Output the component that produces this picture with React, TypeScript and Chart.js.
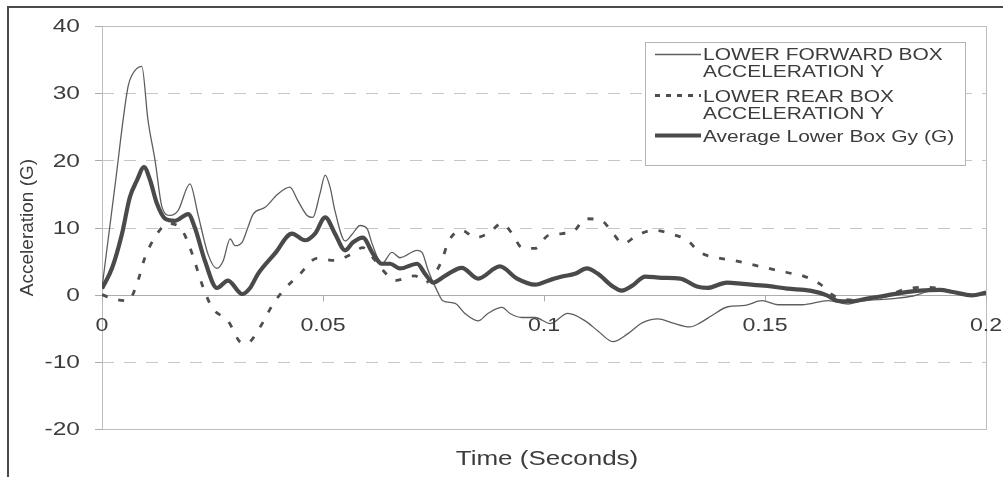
import { useEffect, useRef } from 'react';
import { Chart, registerables } from 'chart.js';

Chart.register(...registerables);

const FONT = '"Liberation Sans", Arial, sans-serif';
const INK = '#3c3c3c';

// Axis ticks and titles
const xTickValues = [0, 0.05, 0.1, 0.15, 0.2];
const xTickLabels = ['0', '0.05', '0.1', '0.15', '0.2'];
const yTickValues = [40, 30, 20, 10, 0, -10, -20];
const xTitle = 'Time (Seconds)';
const yTitle = 'Acceleration (G)';

// Legend entries (wrapped as shown in the legend box)
const forwardLegend = ['LOWER FORWARD BOX', 'ACCELERATION Y'];
const rearLegend = ['LOWER REAR BOX', 'ACCELERATION Y'];
const averageLegend = ['Average Lower Box Gy (G)'];

// Lower forward box acceleration Y (time in s, acceleration in G)
const forwardTime = [
  0.0, 0.0029, 0.0059, 0.0068, 0.009, 0.0104, 0.012, 0.0136, 0.0154, 0.0172,
  0.0199, 0.0217, 0.024, 0.026, 0.0274, 0.029, 0.0301, 0.0317, 0.033, 0.0342,
  0.0369, 0.0398, 0.0425, 0.0443, 0.0464, 0.0477, 0.0493, 0.0505, 0.0516, 0.0527,
  0.055, 0.0566, 0.0584, 0.06, 0.0611, 0.0633, 0.0656, 0.0674, 0.0713, 0.0724,
  0.0738, 0.0758, 0.0771, 0.0799, 0.0821, 0.0851, 0.0873, 0.0905, 0.0923, 0.095,
  0.098, 0.1014, 0.1054, 0.1093, 0.1122, 0.1156, 0.119, 0.1222, 0.1258, 0.129,
  0.133, 0.1353, 0.138, 0.1416, 0.1455, 0.1493, 0.1529, 0.1584, 0.1643, 0.1688,
  0.1715, 0.179, 0.1835, 0.188, 0.1912, 0.1964, 0.2,
];
const forwardAccel = [
  1, 16, 31, 32.7, 34, 26, 20, 13, 11.8, 12.5,
  16.5, 12, 6, 3.9, 5, 8.3, 7.3, 7.8, 10, 12,
  13, 15, 16, 14, 11.8, 11.5, 15, 17.8, 16, 12.5,
  8, 9, 10.3, 9.8, 7.6, 4.6, 6.3, 5.5, 6.6, 6.3,
  3.6, 0.6, -0.9, -1.3, -2.8, -3.9, -2.8, -1.9, -2.8, -3.4,
  -3.4, -4.3, -2.8, -3.9, -5.4, -7, -5.8, -4.2, -3.6, -4.2,
  -4.8, -4.2, -3.1, -1.8, -1.6, -0.9, -1.5, -1.5, -0.9, -1.4,
  -1.0, -0.6, -0.2, 0.6, 0.5, 0.0, 0.3,
];

// Lower rear box acceleration Y
const rearTime = [
  0.0, 0.0025, 0.0059, 0.0079, 0.0097, 0.0124, 0.0149, 0.0181, 0.0204, 0.0226,
  0.0249, 0.0285, 0.0317, 0.0328, 0.0357, 0.0387, 0.041, 0.0448, 0.0486, 0.0527,
  0.0566, 0.059, 0.0613, 0.0636, 0.0663, 0.0708, 0.0731, 0.076, 0.0771, 0.0783,
  0.0814, 0.0844, 0.0873, 0.0905, 0.0928, 0.095, 0.098, 0.1009, 0.1041, 0.107,
  0.1093, 0.1131, 0.1154, 0.1179, 0.121, 0.1247, 0.129, 0.1324, 0.1353, 0.1391,
  0.1428, 0.1489, 0.155, 0.1586, 0.1624, 0.1654, 0.1697, 0.1731, 0.1776, 0.1812,
  0.1857, 0.1896, 0.1925, 0.1968, 0.2,
];
const rearAccel = [
  0, -0.6, -0.9, 1.6, 5.5, 9, 10.6, 9.6, 6.1, 1.6,
  -1.9, -3.9, -7.2, -7.2, -4.9, -1.4, 0.6, 3.1, 5.4, 5.1,
  6.1, 7, 5.5, 3.6, 2.1, 2.8, 1.8, 3.9, 5.5, 7.8,
  9.6, 8.5, 9.1, 10.6, 9.1, 7, 6.9, 8.8, 9.1, 9.6,
  11.3, 11, 9.3, 7.6, 8.8, 9.6, 9, 8.1, 6.3, 5.5,
  5.1, 4.2, 3.3, 2.8, 1.6, -0.1, -0.8, -0.6, -0.2, 0.7,
  1.1, 0.9, 0.4, -0.1, 0.3,
];

// Average lower box Gy
const averageTime = [
  0.0, 0.0023, 0.0045, 0.0063, 0.0079, 0.0095, 0.0109, 0.0124, 0.0143, 0.0165,
  0.0195, 0.021, 0.0233, 0.026, 0.0285, 0.0317, 0.0335, 0.0353, 0.0391, 0.043,
  0.0459, 0.0482, 0.0505, 0.0527, 0.055, 0.0568, 0.059, 0.0613, 0.0633, 0.0652,
  0.0674, 0.0713, 0.0731, 0.0749, 0.0776, 0.0814, 0.0851, 0.09, 0.0939, 0.098,
  0.1014, 0.1041, 0.107, 0.1097, 0.1122, 0.1154, 0.1176, 0.1199, 0.1229, 0.1267,
  0.1308, 0.1346, 0.1369, 0.1414, 0.145, 0.1505, 0.155, 0.1602, 0.164, 0.1663,
  0.1692, 0.1731, 0.1776, 0.1812, 0.1851, 0.1896, 0.1925, 0.1968, 0.2,
];
const averageAccel = [
  0.9, 4, 9, 14.5, 17, 19, 17, 13.6, 11.3, 11,
  12, 10, 5, 1, 2.1, 0.1, 1, 3.1, 6.1, 9.1,
  8.1, 9.1, 11.5, 9.1, 6.6, 7.8, 8.5, 6.1, 4.6, 4.6,
  3.9, 4.6, 3.1, 1.8, 2.8, 4, 2.4, 4.2, 2.4, 1.5,
  2.2, 2.7, 3.1, 3.9, 3.1, 1.3, 0.6, 1.3, 2.7, 2.5,
  2.4, 1.2, 1.0, 1.8, 1.6, 1.3, 0.9, 0.6, -0.1, -0.9,
  -1.0, -0.6, -0.1, 0.3, 0.6, 0.7, 0.4, -0.1, 0.3,
];

const toPoints = (xs: number[], ys: number[]) => xs.map((x, i) => ({ x, y: ys[i] }));

function stretchedText(
  ctx: CanvasRenderingContext2D,
  text: string,
  x: number,
  y: number,
  size: number,
  align: CanvasTextAlign,
  sx: number,
) {
  ctx.save();
  ctx.translate(x, y);
  ctx.scale(sx, 1);
  ctx.font = `${size}px ${FONT}`;
  ctx.textAlign = align;
  ctx.textBaseline = 'alphabetic';
  ctx.fillStyle = INK;
  ctx.fillText(text, 0, 0);
  ctx.restore();
}

function hLine(ctx: CanvasRenderingContext2D, x1: number, x2: number, y: number) {
  ctx.beginPath();
  ctx.moveTo(x1, y);
  ctx.lineTo(x2, y);
  ctx.stroke();
}

const framePlugin = {
  id: 'excelFrame',
  beforeDraw(chart: any) {
    const { ctx, width, height } = chart;
    ctx.save();
    ctx.fillStyle = '#ffffff';
    ctx.fillRect(0, 0, width, height);
    ctx.restore();
  },
  beforeDatasetsDraw(chart: any) {
    const { ctx, chartArea: a, scales } = chart;
    const ys = scales.y;
    const xs = scales.x;
    const yMax = Math.max(...yTickValues);
    const yMin = Math.min(...yTickValues);
    ctx.save();
    // dashed horizontal gridlines
    ctx.strokeStyle = '#c6c6c6';
    ctx.lineWidth = 1;
    ctx.setLineDash([12, 10]);
    yTickValues.forEach((v) => {
      if (v === 0 || v === yMax || v === yMin) return;
      const y = Math.round(ys.getPixelForValue(v)) + 0.5;
      hLine(ctx, a.left, a.right, y);
    });
    ctx.setLineDash([]);
    // plot area border
    ctx.strokeStyle = '#bdbdbd';
    ctx.strokeRect(Math.round(a.left) + 0.5, Math.round(a.top) + 0.5, Math.round(a.width), Math.round(a.height));
    // zero line (category axis)
    const y0 = Math.round(ys.getPixelForValue(0)) + 0.5;
    ctx.strokeStyle = '#acacac';
    hLine(ctx, a.left, a.right, y0);
    // y tick marks
    yTickValues.forEach((v) => {
      const y = Math.round(ys.getPixelForValue(v)) + 0.5;
      hLine(ctx, a.left - 7, a.left, y);
    });
    // x tick marks on the zero line
    xTickValues.forEach((v) => {
      const x = Math.round(xs.getPixelForValue(v)) + 0.5;
      ctx.beginPath();
      ctx.moveTo(x, y0);
      ctx.lineTo(x, y0 + 6);
      ctx.stroke();
    });
    ctx.restore();
  },
  afterDatasetsDraw(chart: any) {
    const { ctx, chartArea: a, scales } = chart;
    const ys = scales.y;
    const xs = scales.x;
    const y0 = ys.getPixelForValue(0);

    // y tick labels
    yTickValues.forEach((v) => {
      stretchedText(ctx, String(v), 80, ys.getPixelForValue(v) + 6.3, 17.5, 'right', 1.4);
    });
    // x tick labels just below the zero line
    xTickValues.forEach((v, i) => {
      stretchedText(ctx, xTickLabels[i], xs.getPixelForValue(v), y0 + 36, 19, 'center', 1.22);
    });
    // axis titles
    stretchedText(ctx, xTitle, (a.left + a.right) / 2 + 3, 465, 20, 'center', 1.3);
    ctx.save();
    ctx.translate(33, (a.top + a.bottom) / 2);
    ctx.rotate(-Math.PI / 2);
    ctx.font = `19px ${FONT}`;
    ctx.textAlign = 'center';
    ctx.textBaseline = 'alphabetic';
    ctx.fillStyle = INK;
    ctx.fillText(yTitle, 0, 0);
    ctx.restore();

    // legend box
    const lx = 645;
    const ly = 42;
    ctx.save();
    ctx.fillStyle = '#ffffff';
    ctx.fillRect(lx, ly, 320, 123);
    ctx.strokeStyle = '#b4b4b4';
    ctx.lineWidth = 1;
    ctx.strokeRect(lx + 0.5, ly + 0.5, 320, 123);
    const ds = chart.data.datasets;
    const samples = [
      { y: 54.5, lines: forwardLegend, base: [60, 77], d: ds[0], dash: [] as number[] },
      { y: 95.5, lines: rearLegend, base: [102, 118.5], d: ds[1], dash: [5, 6] },
      { y: 135.5, lines: averageLegend, base: [142], d: ds[2], dash: [] as number[] },
    ];
    samples.forEach((s) => {
      ctx.save();
      ctx.strokeStyle = s.d.borderColor;
      ctx.lineWidth = s.d.borderWidth;
      ctx.setLineDash(s.dash);
      hLine(ctx, 655, 701, s.y);
      ctx.restore();
      s.lines.forEach((t, i) => stretchedText(ctx, t, 703, s.base[i], 16.5, 'left', 1.27));
    });
    ctx.restore();

    // outer frame of the figure
    ctx.save();
    ctx.strokeStyle = '#4a4a4a';
    ctx.lineWidth = 2;
    ctx.strokeRect(8, 7, 1400, 900);
    ctx.restore();
  },
};

export default function App() {
  const canvasRef = useRef<HTMLCanvasElement | null>(null);

  useEffect(() => {
    const canvas = canvasRef.current;
    if (!canvas) return;
    const chart = new Chart(canvas, {
      type: 'line',
      data: {
        datasets: [
          {
            label: 'LOWER FORWARD BOX ACCELERATION Y',
            data: toPoints(forwardTime, forwardAccel),
            borderColor: '#5e5e5e',
            borderWidth: 1.3,
            order: 1,
          },
          {
            label: 'LOWER REAR BOX ACCELERATION Y',
            data: toPoints(rearTime, rearAccel),
            borderColor: '#4e4e4e',
            borderWidth: 2.8,
            borderDash: [6, 11],
            order: 2,
          },
          {
            label: 'Average Lower Box Gy (G)',
            data: toPoints(averageTime, averageAccel),
            borderColor: '#4a4a4a',
            borderWidth: 4.2,
            order: 0,
          },
        ],
      },
      options: {
        animation: false,
        responsive: true,
        maintainAspectRatio: false,
        devicePixelRatio: 1,
        layout: { padding: { left: 102, top: 26, right: 17, bottom: 48 } },
        elements: {
          point: { radius: 0, hoverRadius: 0 },
          line: { cubicInterpolationMode: 'monotone', borderJoinStyle: 'round', fill: false },
        },
        scales: {
          x: { type: 'linear', min: 0, max: 0.2, display: false },
          y: { type: 'linear', min: -20, max: 40, display: false },
        },
        plugins: {
          legend: { display: false },
          tooltip: { enabled: false },
        },
        events: [],
      },
      plugins: [framePlugin],
    } as any);
    return () => chart.destroy();
  }, []);

  return (
    <div
      style={{
        position: 'fixed',
        left: 0,
        top: 0,
        width: 1003,
        height: 477,
        overflow: 'hidden',
        background: '#ffffff',
      }}
    >
      <canvas ref={canvasRef} />
    </div>
  );
}
